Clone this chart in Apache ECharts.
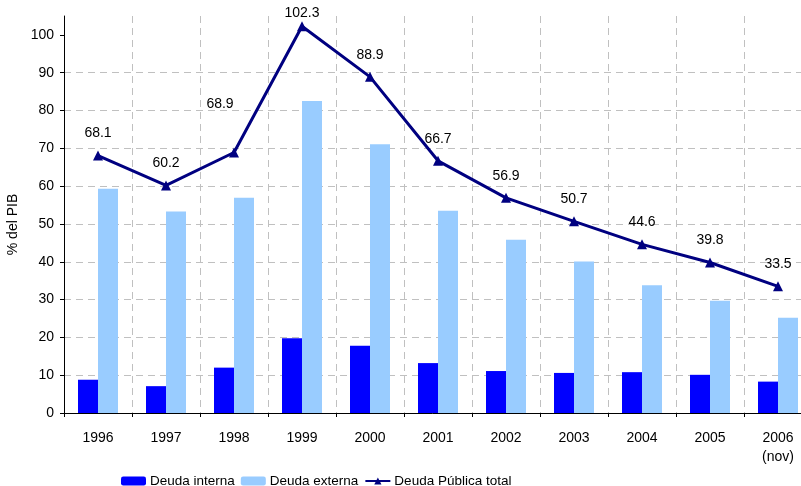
<!DOCTYPE html>
<html>
<head>
<meta charset="utf-8">
<script src="https://cdn.jsdelivr.net/npm/echarts@6/dist/echarts.min.js"></script>
<style>
    html, body { margin: 0; padding: 0; background: #fff; }
    #chart { width: 801px; height: 486px; }
</style>
</head>
<body>
<div id="chart"></div>
<script>
// datos
var years = ['1996', '1997', '1998', '1999', '2000', '2001', '2002', '2003', '2004', '2005', '2006\n(nov)'];
var deudaInterna = [8.8, 7.1, 12.0, 19.8, 17.8, 13.2, 11.1, 10.6, 10.8, 10.1, 8.3];
var deudaExterna = [59.3, 53.3, 56.9, 82.5, 71.1, 53.5, 45.8, 40.1, 33.8, 29.7, 25.2];
var deudaTotal = [68.1, 60.2, 68.9, 102.3, 88.9, 66.7, 56.9, 50.7, 44.6, 39.8, 33.5];
var yTicks = [0, 10, 20, 30, 40, 50, 60, 70, 80, 90, 100];

var font = 'Arial, "Liberation Sans", sans-serif';

LoadDeuda();

function LoadDeuda() {
    var myChart = echarts.init(document.getElementById('chart'));

    // etiquetas con posicion propia: 1998 arriba a la izquierda, 1999 pegada al punto
    var labelOffsets = { 2: [-14, -26], 3: [0, 9] };
    var totalData = deudaTotal.map(function (v, i) {
        if (labelOffsets[i]) {
            return { value: v, label: { offset: labelOffsets[i] } };
        }
        return v;
    });

    var option = {
        backgroundColor: '#ffffff',
        animation: false,
        grid: {
            left: 64,
            width: 748,
            top: 16,
            bottom: 73,
            outerBoundsMode: 'none'
        },
        legend: {
            left: 116,
            top: 469,
            itemWidth: 25,
            itemHeight: 9,
            itemGap: 6,
            textStyle: {
                color: '#000',
                fontFamily: font,
                fontSize: 13.5,
                padding: [0, 0, 0, -1]
            },
            data: ['Deuda interna', 'Deuda externa', 'Deuda Pública total']
        },
        xAxis: {
            type: 'category',
            data: years,
            axisLine: {
                lineStyle: { color: '#000', width: 1 }
            },
            axisTick: {
                show: true,
                length: 4,
                lineStyle: { color: '#000' }
            },
            axisLabel: {
                color: '#000',
                fontFamily: font,
                fontSize: 14,
                margin: 16,
                lineHeight: 19
            },
            splitLine: {
                show: true,
                lineStyle: { color: '#c0c0c0', type: [7, 5] }
            }
        },
        yAxis: {
            type: 'value',
            min: 0,
            max: 105,
            interval: 10,
            name: '% del PIB',
            nameLocation: 'middle',
            nameGap: 42,
            nameTextStyle: {
                color: '#000',
                fontFamily: font,
                fontSize: 14,
                padding: [0, 0, 0, -20]
            },
            axisLine: {
                show: true,
                lineStyle: { color: '#000', width: 1 }
            },
            axisTick: {
                show: true,
                length: 4,
                customValues: yTicks,
                lineStyle: { color: '#000' }
            },
            axisLabel: {
                color: '#000',
                fontFamily: font,
                fontSize: 14,
                margin: 10,
                customValues: yTicks
            },
            splitLine: {
                show: true,
                showMinLine: false,
                showMaxLine: false,
                lineStyle: { color: '#c0c0c0', type: [7, 5] }
            }
        },
        series: [
            {
                name: 'Deuda interna',
                type: 'bar',
                data: deudaInterna,
                barWidth: 20,
                barGap: '0%',
                itemStyle: { color: '#0000ff' }
            },
            {
                name: 'Deuda externa',
                type: 'bar',
                data: deudaExterna,
                barWidth: 20,
                barGap: '0%',
                itemStyle: { color: '#99ccff' }
            },
            {
                name: 'Deuda Pública total',
                type: 'line',
                data: totalData,
                symbol: 'triangle',
                symbolSize: 10,
                lineStyle: { color: '#000080', width: 3 },
                itemStyle: { color: '#000080' },
                label: {
                    show: true,
                    position: 'top',
                    distance: 10,
                    color: '#000',
                    fontFamily: font,
                    fontSize: 14,
                    formatter: function (p) { return p.value.toFixed(1); }
                },
                z: 5
            }
        ]
    };

    myChart.setOption(option);
}
</script>
</body>
</html>
